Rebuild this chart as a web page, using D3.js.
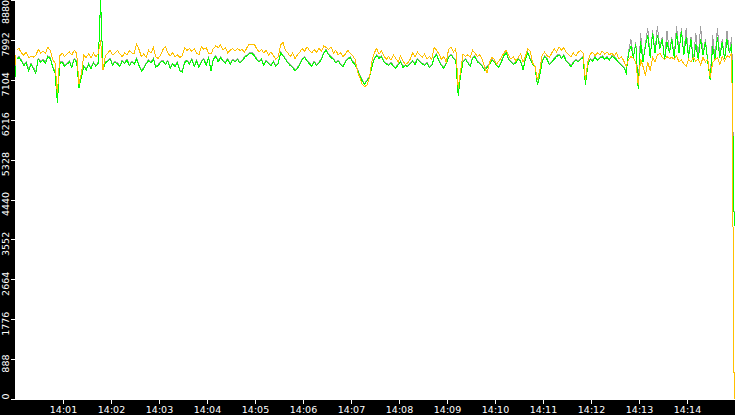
<!DOCTYPE html>
<html lang="en">
<head>
<meta charset="UTF-8">
<title>Levels 14:00 - 14:15</title>
<script src="https://d3js.org/d3.v7.min.js"></script>
<style>
  html, body { margin: 0; padding: 0; background: #000; }
  svg { display: block; }
  .axis text { font-family: "DejaVu Sans", Verdana, sans-serif; font-size: 9.5px; fill: #fff; }
  .axis line, .axis path { stroke: #fff; shape-rendering: crispEdges; }
  .series { fill: none; stroke-width: 1px; shape-rendering: crispEdges; }
</style>
</head>
<body>
<svg width="735" height="415"></svg>

<script>
    // samples start one second before the axis start, one every 3 s
    const startTime = "13:59:59";
    const step = 3;

    const yTicks = [0, 888, 1776, 2664, 3552, 4440, 5328, 6216, 7104, 7992, 8880];
    const xTickLabels = ["14:01", "14:02", "14:03", "14:04", "14:05", "14:06", "14:07",
                         "14:08", "14:09", "14:10", "14:11", "14:12", "14:13", "14:14"];

    const gray = [
        7000,7580,7620,7540,7440,7500,7340,7470,7380,7280, 7580,7520,7560,7500,7640,7600,7420,7280,6620,7500,
        7520,7430,7470,7520,7400,7580,7520,6950,7170,7420, 7350,7470,7380,7500,7420,7500,8800,7340,7500,7540,
        7580,7450,7520,7480,7420,7540,7490,7560,7440,7520,
        7470,7580,7440,7320,7370,7480,7550,7500,7580,7400, 7440,7520,7540,7460,7540,7380,7470,7420,7500,7320,
        7300,7500,7550,7470,7580,7420,7540,7400,7520,7580, 7440,7620,7320,7580,7640,7520,7620,7540,7500,7580,
        7460,7560,7520,7580,7500,7540,7620,7660,7700,7720,
        7660,7580,7520,7580,7440,7540,7480,7440,7520,7420, 7480,7720,7660,7580,7500,7440,7400,7320,7380,7460,
        7580,7620,7540,7480,7420,7520,7440,7500,7580,7720, 7780,7680,7620,7580,7500,7540,7460,7420,7520,7580,
        7620,7520,7460,7340,7220,7100,7020,7100,7170,7400,
        7580,7660,7600,7640,7520,7480,7440,7500,7420,7380, 7460,7520,7400,7440,7420,7480,7540,7460,7580,7520,
        7480,7440,7500,7400,7440,7620,7680,7540,7440,7380, 7480,7620,7680,7600,7540,6780,7220,7520,7580,7500,
        7420,7600,7640,7520,7480,7420,7340,7400,7460,7560,
        7520,7440,7400,7520,7660,7720,7580,7520,7460,7500, 7580,7540,7340,7580,7720,7580,7460,7420,7000,7220,
        7520,7640,7580,7460,7520,7580,7640,7680,7600,7660, 7540,7480,7420,7500,7560,7520,7580,7620,7020,7440,
        7580,7540,7620,7560,7600,7640,7580,7620,7560,7640,
        7620,7560,7500,7440,7400,7270,7750,8000,7620,7950, 6920,8150,7520,7900,8250,7620,8200,7720,8300,7820,
        8050,7570,8200,7720,8050,7620,8300,7720,8250,7670, 8250,7620,8050,7520,8150,7580,8300,7670,8000,7520,
        7120,8100,7570,8250,7620,8000,7580,8200,7720,8050, 3850
    ];

    const green = [
        6980,7560,7600,7520,7420,7480,7300,7450,7350,7250, 7560,7500,7540,7470,7620,7580,7400,7250,6580,7470,
        7500,7400,7450,7500,7380,7560,7500,6930,7150,7400, 7320,7450,7350,7480,7400,7470,8880,7320,7480,7520,
        7560,7430,7500,7460,7400,7520,7470,7540,7420,7500,
        7450,7560,7420,7300,7350,7460,7530,7480,7560,7380, 7420,7500,7520,7440,7520,7360,7450,7400,7480,7300,
        7280,7480,7530,7450,7560,7400,7520,7380,7500,7560, 7420,7600,7300,7560,7620,7500,7600,7520,7480,7560,
        7440,7540,7500,7560,7480,7520,7600,7640,7680,7700,
        7640,7560,7500,7560,7420,7520,7460,7420,7500,7400, 7460,7700,7640,7560,7480,7420,7380,7300,7360,7440,
        7560,7600,7520,7460,7400,7500,7420,7480,7560,7700, 7760,7660,7600,7560,7480,7520,7440,7400,7500,7560,
        7600,7500,7440,7320,7200,7080,7000,7080,7150,7380,
        7560,7640,7580,7620,7500,7460,7420,7480,7400,7360, 7440,7500,7380,7420,7400,7460,7520,7440,7560,7500,
        7460,7420,7480,7380,7420,7600,7660,7520,7420,7360, 7460,7600,7660,7580,7520,6750,7200,7500,7560,7480,
        7400,7580,7620,7500,7460,7400,7320,7380,7440,7540,
        7500,7420,7380,7500,7640,7700,7560,7500,7440,7480, 7560,7520,7320,7560,7700,7560,7440,7400,6980,7200,
        7500,7620,7560,7440,7500,7560,7620,7660,7580,7640, 7520,7460,7400,7480,7540,7500,7560,7600,7000,7420,
        7560,7520,7600,7540,7580,7620,7560,7600,7540,7620,
        7600,7540,7480,7420,7380,7250,7700,7850,7600,7900, 6900,7960,7500,7850,8100,7600,8150,7700,8100,7800,
        8000,7550,7950,7700,8000,7600,8150,7700,8200,7650, 8050,7600,8000,7500,7900,7560,8000,7650,7950,7500,
        7100,7850,7550,8050,7600,7950,7560,8000,7700,7900, 3850
    ];

    const orange = [
        7250,7780,7800,7700,7650,7720,7600,7620,7610,7640, 7780,7700,7740,7690,7830,7760,7560,7480,6800,7640,
        7700,7620,7680,7720,7660,7760,7700,7020,7250,7650, 7600,7680,7590,7700,7620,7680,7980,7320,7640,7700,
        7760,7660,7700,7760,7680,7620,7700,7660,7750,7700,
        7700,7900,7780,7620,7680,7600,7760,7700,7820,7620, 7580,7660,7780,7840,7700,7640,7700,7620,7660,7600,
        7640,7820,7760,7800,7740,7800,7700,7660,7840,7780, 7820,7700,7680,7800,7860,7820,7880,7760,7820,7700,
        7760,7800,7740,7800,7760,7780,7720,7820,7900,7880,
        7900,7800,7720,7780,7700,7760,7660,7720,7640,7560, 7620,7880,7940,7760,7700,7620,7700,7580,7660,7720,
        7800,7740,7840,7760,7700,7780,7720,7800,7740,7860, 7820,7780,7840,7700,7760,7660,7700,7620,7680,7760,
        7700,7640,7560,7300,7150,7000,6950,6990,7150,7500,
        7700,7800,7680,7740,7640,7560,7620,7540,7660,7580, 7500,7640,7520,7440,7480,7560,7700,7620,7720,7660,
        7600,7680,7560,7620,7560,7820,7760,7680,7560,7620, 7500,7780,7840,7720,7800,6930,7300,7680,7620,7660,
        7600,7760,7700,7620,7660,7560,7400,7250,7480,7600,
        7560,7460,7520,7600,7700,7760,7640,7560,7620,7520, 7600,7680,7500,7620,7800,7740,7480,7400,7100,7320,
        7660,7720,7640,7600,7700,7800,7720,7840,7760,7820, 7720,7660,7620,7700,7640,7720,7760,7700,7100,7500,
        7680,7720,7640,7700,7660,7740,7680,7720,7660,7700,
        7640,7700,7560,7620,7520,7400,7560,7620,7580,7500, 7000,7560,7400,7200,7500,7300,7600,7500,7650,7700,
        7600,7560,7620,7580,7600,7560,7640,7500,7540,7460, 7400,7560,7500,7600,7520,7560,7440,7600,7500,7560,
        7150,7480,7560,7600,7440,7620,7520,7640,7600,7700, 0
    ];

    const svg = d3.select("svg");
    const parse = d3.timeParse("%H:%M:%S");
    const parseTick = d3.timeParse("%H:%M");
    const t0 = parse(startTime);

    const x = d3.scaleTime()
        .domain([parse("14:00:00"), parse("14:15:00")])
        .range([15, 735]);
    const y = d3.scaleLinear()
        .domain([0, 8880])
        .range([399, 0]);

    // white plot area
    svg.append("rect")
        .attr("x", 15).attr("y", 0)
        .attr("width", 720).attr("height", 399)
        .attr("fill", "#fff");

    svg.append("clipPath").attr("id", "plot")
        .append("rect")
        .attr("x", 15).attr("y", 0)
        .attr("width", 720).attr("height", 399);

    const line = d3.line()
        .x((d, i) => x(d3.timeSecond.offset(t0, i * step)))
        .y(d => y(d));

    const g = svg.append("g").attr("clip-path", "url(#plot)");

    g.append("path").datum(gray).attr("class", "series")
        .attr("stroke", "#a0a0a0").attr("d", line);
    g.append("path").datum(green).attr("class", "series")
        .attr("stroke", "#00ff00").attr("d", line);
    g.append("path").datum(orange).attr("class", "series")
        .attr("stroke", "#ffc000").attr("d", line);

    // y axis, labels turned on their side
    const yAxis = svg.append("g").attr("class", "axis")
        .attr("transform", "translate(15.5,0)")
        .call(d3.axisLeft(y).tickValues(yTicks).tickSize(5).tickSizeOuter(0).tickFormat(d3.format("d")));

    yAxis.selectAll(".tick text")
        .attr("text-anchor", "middle")
        .attr("dy", null)
        .attr("transform", "rotate(-90)")
        .attr("x", d => -(Math.max(11.5, Math.min(y(d) + 4, 396)) - y(d)))
        .attr("y", -6.5);

    // x axis
    svg.append("g").attr("class", "axis")
        .attr("transform", "translate(0,398.5)")
        .call(d3.axisBottom(x)
            .tickValues(xTickLabels.map(parseTick))
            .tickSize(5).tickSizeOuter(0)
            .tickFormat(d3.timeFormat("%H:%M")));
</script>
</body>
</html>
